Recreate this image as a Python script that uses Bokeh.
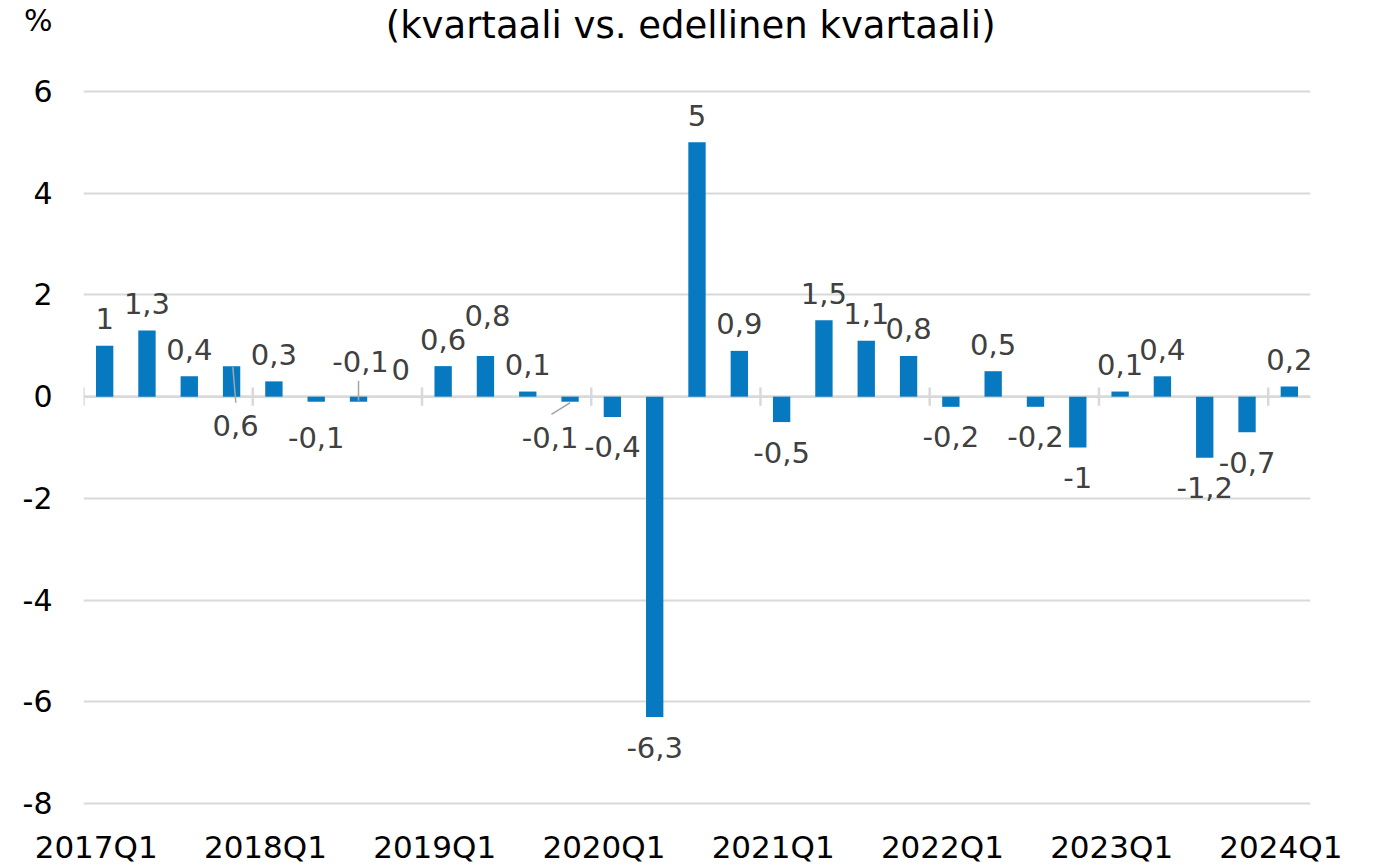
from bokeh.plotting import figure
from bokeh.models import Range1d, FixedTicker, ColumnDataSource
from bokeh.core.properties import value
from bokeh.embed import file_html
from bokeh.resources import INLINE

quarters = [f"{y}Q{q}" for y in range(2017, 2025) for q in range(1, 5)][:29]
values = [1, 1.3, 0.4, 0.6, 0.3, -0.1, -0.1, 0, 0.6, 0.8, 0.1, -0.1, -0.4, -6.3, 5, 0.9,
          -0.5, 1.5, 1.1, 0.8, -0.2, 0.5, -0.2, -1, 0.1, 0.4, -1.2, -0.7, 0.2]
y_ticks = [-8, -6, -4, -2, 0, 2, 4, 6]
title_text = "(kvartaali vs. edellinen kvartaali)"
unit_text = "%"

FONT = "DejaVu Sans"
BAR = "#0679C1"
GRID = "#D9D9D9"
LABEL = "#404040"

# layout: chart area (-8..6) is 712 px tall; extra headroom above holds the title
FW, CH, HEAD, FOOT = 1227, 712, 91, 2
ppu = CH / (max(y_ticks) - min(y_ticks))
y_top = max(y_ticks) + HEAD / ppu
y_bot = min(y_ticks) - FOOT / ppu
unit_y = max(y_ticks) + (HEAD - 20) / ppu
title_y = max(y_ticks) + (HEAD - 25) / ppu

p = figure(frame_width=FW, frame_height=CH + HEAD + FOOT, output_backend="svg", toolbar_location=None,
           x_range=Range1d(0, len(quarters)), y_range=Range1d(y_bot, y_top),
           min_border_left=83, min_border_right=55, min_border_top=0, min_border_bottom=48)
p.outline_line_color = None
p.background_fill_color = "white"
p.border_fill_color = "white"

# grid
p.xgrid.grid_line_color = None
p.ygrid.ticker = FixedTicker(ticks=y_ticks)
p.ygrid.grid_line_color = GRID
p.ygrid.grid_line_width = 2

# y axis (the unit sign sits above the top tick label)
p.yaxis.ticker = FixedTicker(ticks=y_ticks + [unit_y])
ov = {t: str(t) for t in y_ticks}
ov[unit_y] = unit_text
p.yaxis.major_label_overrides = ov
p.yaxis.axis_line_color = None
p.yaxis.major_tick_line_color = None
p.yaxis.minor_tick_line_color = None
p.yaxis.major_label_text_font = FONT
p.yaxis.major_label_text_font_size = "30px"
p.yaxis.major_label_text_color = "black"
p.yaxis.major_label_standoff = 25

# x axis labels at Q1s
q1_idx = [i for i, q in enumerate(quarters) if q.endswith("Q1")]
xt = [i + 0.3 for i in q1_idx]
p.xaxis.ticker = FixedTicker(ticks=xt)
p.xaxis.major_label_overrides = {t: quarters[i] for t, i in zip(xt, q1_idx)}
p.xaxis.axis_line_color = None
p.xaxis.major_tick_line_color = None
p.xaxis.minor_tick_line_color = None
p.xaxis.major_label_text_font = FONT
p.xaxis.major_label_text_font_size = "31px"
p.xaxis.major_label_text_color = "black"
p.xaxis.major_label_standoff = 17

xs = [i + 0.5 for i in range(len(quarters))]

# zero line and category tick marks
p.segment(x0=[0], y0=[0], x1=[len(quarters)], y1=[0], line_color=GRID, line_width=2.5)
tick_x = [i for i in q1_idx]
p.segment(x0=tick_x, y0=[-0.18] * len(tick_x), x1=tick_x, y1=[0.18] * len(tick_x),
          line_color=GRID, line_width=2.5)

src = ColumnDataSource(dict(x=xs, top=values))
p.vbar(x="x", top="top", bottom=0, width=0.41, source=src, fill_color=BAR, line_color=None)

# data labels (pixel nudges for a few labels, as in the original)
lab_x, lab_y, lab_dx, lab_dy, lab_t = [], [], [], [], []
special = {"2017Q4": (4, 0, 29), "2018Q3": (2, 0, -35), "2019Q4": (-20, 0, 41),
           "2018Q2": (0, None, 36), "2019Q2": (2, None, -40)}
for q, x, v in zip(quarters, xs, values):
    t = str(v).replace(".", ",")
    if t.endswith(",0"):
        t = t[:-2]
    dx, dy = 0, (-27 if v >= 0 else 30)
    y = v
    if q in special:
        dx, yy, dy = special[q]
        if yy is not None:
            y = yy
    lab_x.append(x); lab_y.append(y); lab_dx.append(dx); lab_dy.append(dy); lab_t.append(t)
lsrc = ColumnDataSource(dict(x=lab_x, y=lab_y, dx=lab_dx, dy=lab_dy, t=lab_t))
p.text(x="x", y="y", text="t", x_offset="dx", y_offset="dy", source=lsrc,
       text_font=value(FONT), text_font_size="29px", text_color=LABEL,
       text_align="center", text_baseline="middle")

# leader lines (relative to bar centre)
leaders = {"2017Q4": (0.03, 0.58, 0.1, -0.12), "2018Q3": (0.0, 0.31, 0.0, -0.08),
           "2019Q4": (-0.44, -0.35, 0.0, -0.12)}
lx0, ly0, lx1, ly1 = [], [], [], []
for q, (a, b, c, d) in leaders.items():
    i = quarters.index(q)
    lx0.append(xs[i] + a); ly0.append(b); lx1.append(xs[i] + c); ly1.append(d)
p.segment(x0=lx0, y0=ly0, x1=lx1, y1=ly1, line_color="#A6A6A6", line_width=1.5)

# title
p.text(x=[len(quarters) / 2 - 0.15], y=[title_y], text=[title_text], text_font=value(FONT),
       text_font_size="37px", text_color="black", text_align="center", text_baseline="middle")

open("out.html", "w").write(file_html(p, INLINE))
